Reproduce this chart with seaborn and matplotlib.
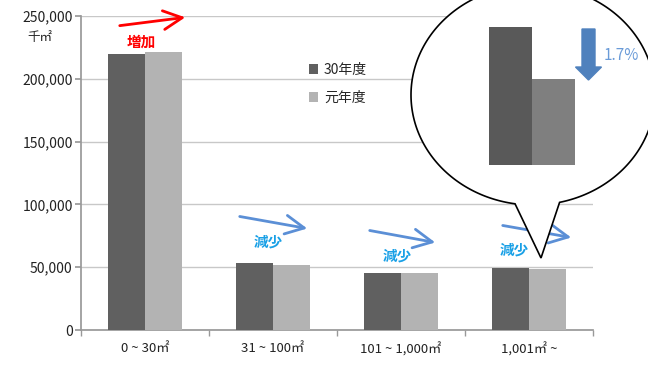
import matplotlib
matplotlib.use("Agg")
import matplotlib.pyplot as plt
import seaborn as sns
import pandas as pd
import numpy as np
from matplotlib.patches import Polygon, FancyArrow, FancyArrowPatch

categories = ["0 ~ 30㎡", "31 ~ 100㎡", "101 ~ 1,000㎡", "1,001㎡ ~"]
series_names = ["30年度", "元年度"]
values_h30 = [220000, 53300, 45400, 49400]
values_r1 = [221300, 51800, 45300, 48600]
trend_labels = ["増加", "減少", "減少", "減少"]
inset_values = [138, 86]
callout_pct = "1.7%"

sns.set_theme(style="white")
plt.rcParams['font.family'] = ['Noto Sans CJK JP', 'DejaVu Sans']

W, H = 648, 365
fig = plt.figure(figsize=(W/100, H/100), dpi=100)
ax = fig.add_axes([81/W, 1-330/H, (593-81)/W, (330-16)/H])

df = pd.DataFrame({
    "cat": categories * 2,
    "series": [series_names[0]]*4 + [series_names[1]]*4,
    "val": values_h30 + values_r1,
})
sns.barplot(data=df, x="cat", y="val", hue="series", order=categories,
            hue_order=series_names, palette=["#606060", "#b3b3b3"],
            width=0.58, gap=0, saturation=1, ax=ax, legend=True, zorder=3,
            linewidth=0)

ax.set_ylim(0, 250000)
ax.set_xlim(-0.5, 3.5)
ax.set_yticks(np.arange(0, 250001, 50000))
ax.set_yticklabels([f"{v:,}" for v in range(0, 250001, 50000)], fontsize=10, color="#222222")
ax.yaxis.grid(True, color="#c8c8c8", linewidth=1)
ax.set_axisbelow(True)
ax.set_xlabel("")
ax.set_ylabel("")
ax.tick_params(axis="x", labelsize=9.5, colors="#222222", pad=9, length=0)
for s in ["top", "right"]:
    ax.spines[s].set_visible(False)
ax.spines["left"].set_color("#999999")
ax.spines["bottom"].set_color("#999999")
ax.set_xticks(np.arange(-0.5, 4, 1), minor=True)
ax.tick_params(axis="x", which="minor", length=4, color="#999999", direction="out", bottom=True)
ax.tick_params(axis="y", length=4, color="#999999", direction="out", left=True, pad=2)

leg = ax.legend(loc="upper left", bbox_to_anchor=(0.42, 0.89), frameon=False,
                fontsize=10, handlelength=0.7, handleheight=0.7, handletextpad=0.4,
                labelspacing=1.0)

def fx(px):
    return px / W
def fy(py):
    return 1 - py / H

fig.text(fx(40), fy(37), "千㎡", fontsize=9, ha="center", va="center", color="#222222")

# trend arrows
arrows = [((117, 26), (188, 17), "red"),
          ((237, 216), (310, 229), "#5b8fd6"),
          ((367, 230), (438, 243), "#5b8fd6"),
          ((500, 225), (574, 238), "#5b8fd6")]
for (x0, y0), (x1, y1), c in arrows:
    fig.patches.append(FancyArrowPatch((fx(x0), fy(y0)), (fx(x1), fy(y1)),
                                       transform=fig.transFigure, arrowstyle="->,head_length=9,head_width=4.5",
                                       color=c, linewidth=2, mutation_scale=1.5))
label_pos = [(141, 42, "red"), (268, 242, "#19a0e6"), (397, 256, "#19a0e6"), (514, 250, "#19a0e6")]
for (x, y, c), t in zip(label_pos, trend_labels):
    fig.text(fx(x), fy(y), t, fontsize=10.5, fontweight="bold", color=c, ha="center", va="center")

# callout balloon
cx, cy, a, b = 533, 95, 122, 110
tl, tr, tip = 515, 560, (541, 258)
th_start = np.arctan2((204 - cy) / b, (tr - cx) / a)
th_end = np.arctan2((204 - cy) / b, (tl - cx) / a)
ths = np.linspace(th_end, th_start + 2*np.pi, 300)
pts = [(cx + a*np.cos(t), cy + b*np.sin(t)) for t in ths]
pts.append(tip)
poly = Polygon([(fx(x), fy(y)) for x, y in pts], closed=True, transform=fig.transFigure,
               facecolor="white", edgecolor="black", linewidth=1.2, zorder=10)
fig.patches.append(poly)

iax = fig.add_axes([fx(489), fy(165), (575-489)/W, (165-27)/H], zorder=11)
sns.barplot(x=["a", "b"], y=inset_values, hue=["a", "b"], palette=["#595959", "#7f7f7f"],
            width=0.98, saturation=1, ax=iax, legend=False, linewidth=0)
iax.set_ylim(0, 138)
iax.set_xlim(-0.5, 1.5)
iax.axis("off")
iax.patch.set_alpha(0)

arr = FancyArrow(fx(588.5), fy(29), 0, -(80-29)/H, width=13/W, head_width=26/W,
                 head_length=13/H, length_includes_head=True, color="#4f81bd",
                 transform=fig.transFigure, zorder=12)
fig.patches.append(arr)
fig.text(fx(604), fy(55), callout_pct, fontsize=11, color="#6a9bd8", ha="left", va="center", zorder=12)

fig.savefig("out.png", dpi=100)
